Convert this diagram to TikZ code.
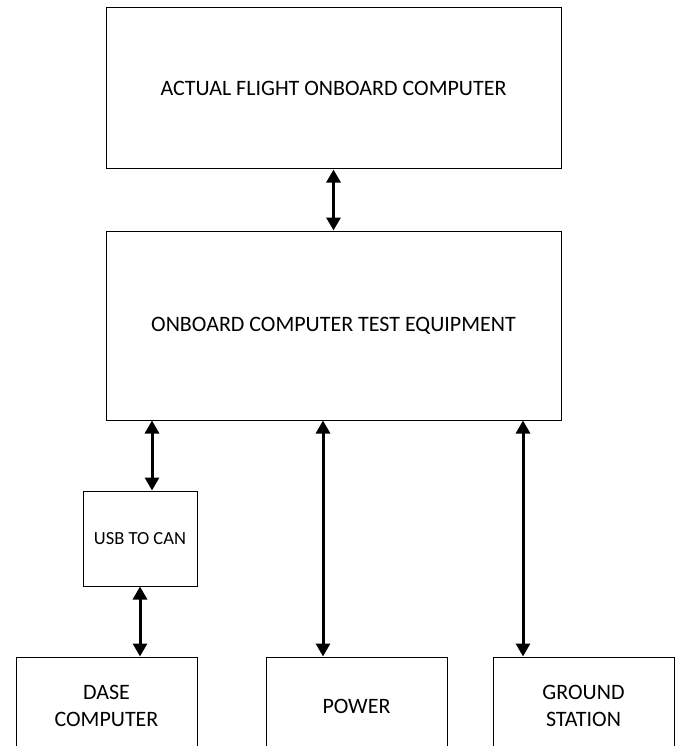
\documentclass[tikz,border=0pt]{standalone}
\usepackage{fontspec}
\setmainfont{Carlito}
\usetikzlibrary{arrows.meta,positioning}

\begin{document}
\begin{tikzpicture}[
    x=1pt, y=-1pt,
    blockbox/.style={rectangle, draw=black, line width=1pt, inner sep=0pt,
        align=center, font=\fontsize{22}{27}\selectfont},
    arr/.style={{Triangle[length=13pt,width=14pt]}-{Triangle[length=13pt,width=14pt]},
        line width=3pt, black}
]
    \useasboundingbox (0,0) rectangle (680,746);
    % main units
    \node[blockbox, minimum width=455pt, minimum height=161pt] (afc) at (333.5,88.5) {ACTUAL FLIGHT ONBOARD COMPUTER};
    \node[blockbox, minimum width=455pt, minimum height=189pt] (octe) at (333.5,325.5) {ONBOARD COMPUTER TEST EQUIPMENT};
    \node[blockbox, minimum width=114pt, minimum height=95pt, font=\fontsize{18.5}{22}\selectfont] (usb) at (140,538.5) {USB TO CAN};
    % bottom row, cut by the page edge
    \node[blockbox, minimum width=181pt, minimum height=98pt] (dase) at (106.5,706) {DASE\\COMPUTER};
    \node[blockbox, minimum width=181pt, minimum height=98pt] (power) at (356.5,706) {POWER};
    \node[blockbox, minimum width=181pt, minimum height=98pt] (ground) at (583.5,706) {GROUND\\STATION};
    % links
    \draw[arr] (afc.south) -- (octe.north);
    \draw[arr] ([xshift=12pt]usb.north) -- ([xshift=12pt]usb.north |- octe.south);
    \draw[arr] (usb.south) -- (usb.south |- dase.north);
    \draw[arr] ([xshift=-33.5pt]power.north) -- ([xshift=-33.5pt]power.north |- octe.south);
    \draw[arr] ([xshift=-60.5pt]ground.north) -- ([xshift=-60.5pt]ground.north |- octe.south);
\end{tikzpicture}
\end{document}
